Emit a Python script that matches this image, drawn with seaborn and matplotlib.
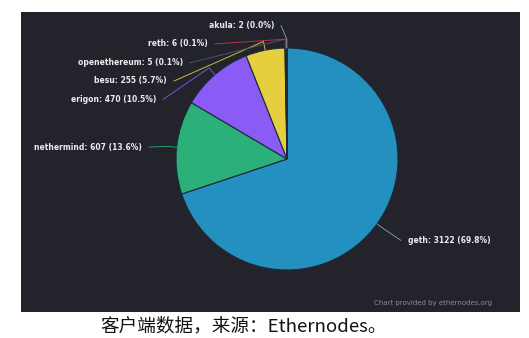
import matplotlib
matplotlib.use("Agg")
import matplotlib.pyplot as plt
import seaborn as sns
import numpy as np

# ---- data ----
clients = ["geth", "nethermind", "erigon", "besu", "openethereum", "reth", "akula"]
nodes = [3122, 607, 470, 255, 5, 6, 2]
percents = ["69.8", "13.6", "10.5", "5.7", "0.1", "0.1", "0.0"]
colors = ["#2390c0", "#2bb07a", "#8a5cf5", "#e5cf3e", "#3a3f47", "#c7334f", "#7f9fa6"]
caption = "客户端数据，来源：Ethernodes。"
credit = "Chart provided by ethernodes.org"

# ---- layout (pixel-based data coordinates) ----
W, H = 529, 338
sns.set_theme(style="dark")
plt.rcParams['font.family'] = ['DejaVu Sans']

fig = plt.figure(figsize=(W / 100, H / 100), dpi=100, facecolor="white")
px_l, px_t, px_r, px_b = 21, 12, 520, 312
ax = fig.add_axes([px_l / W, 1 - px_b / H, (px_r - px_l) / W, (px_b - px_t) / H])
bg = "#22232b"
ax.set_facecolor(bg)

cx, cy, R = 287, H - 159, 111
wedges, _ = ax.pie(nodes, colors=colors, startangle=90, counterclock=False,
                   center=(cx, cy), radius=R, frame=True,
                   wedgeprops=dict(edgecolor="#1c2a3a", linewidth=0.8))
ax.set_xlim(px_l, px_r)
ax.set_ylim(H - px_b, H - px_t)
ax.set_xticks([]); ax.set_yticks([])
for s in ax.spines.values():
    s.set_visible(False)

# label text anchor positions (pixels) : (x, y_pix, ha)
label_pos = {
    "geth": (408, 240.5, "left"),
    "nethermind": (142, 147, "right"),
    "erigon": (156, 99.5, "right"),
    "besu": (167, 81, "right"),
    "openethereum": (183, 62.8, "right"),
    "reth": (207.5, 43.9, "right"),
    "akula": (274, 25.6, "right"),
}
line_colors = {"geth": "#7f8e99", "nethermind": "#2a9d70", "erigon": "#7a55d8",
               "besu": "#cdb93a", "openethereum": "#50555e", "reth": "#b8304a",
               "akula": "#7f969c"}

for w, name, val, pct in zip(wedges, clients, nodes, percents):
    ang = np.deg2rad((w.theta1 + w.theta2) / 2)
    ux, uy = np.cos(ang), np.sin(ang)
    x, yp, ha = label_pos[name]
    y = H - yp
    ax.text(x, y, f"{name}: {val} ({pct}%)", ha=ha, va="center", color="#ececec",
            fontsize=5.5, fontweight="bold")
    sx = x + 7 if ha == "right" else x - 7
    ex, ey = cx + ux * R * 1.08, cy + uy * R * 1.08
    ax.plot([sx, ex, cx + ux * R], [y, ey, cy + uy * R], color=line_colors[name],
            lw=0.7, solid_capstyle="round")

ax.text(492, H - 302.6, credit, ha="right", va="center", color="#8a8d94", fontsize=5.0)

fig.text(243.5 / W, 1 - 326 / H, caption, ha="center", va="center", color="#111111",
         fontsize=13.4, family=["Noto Sans CJK SC", "DejaVu Sans"])

fig.savefig("out.png", dpi=100, facecolor="white")
